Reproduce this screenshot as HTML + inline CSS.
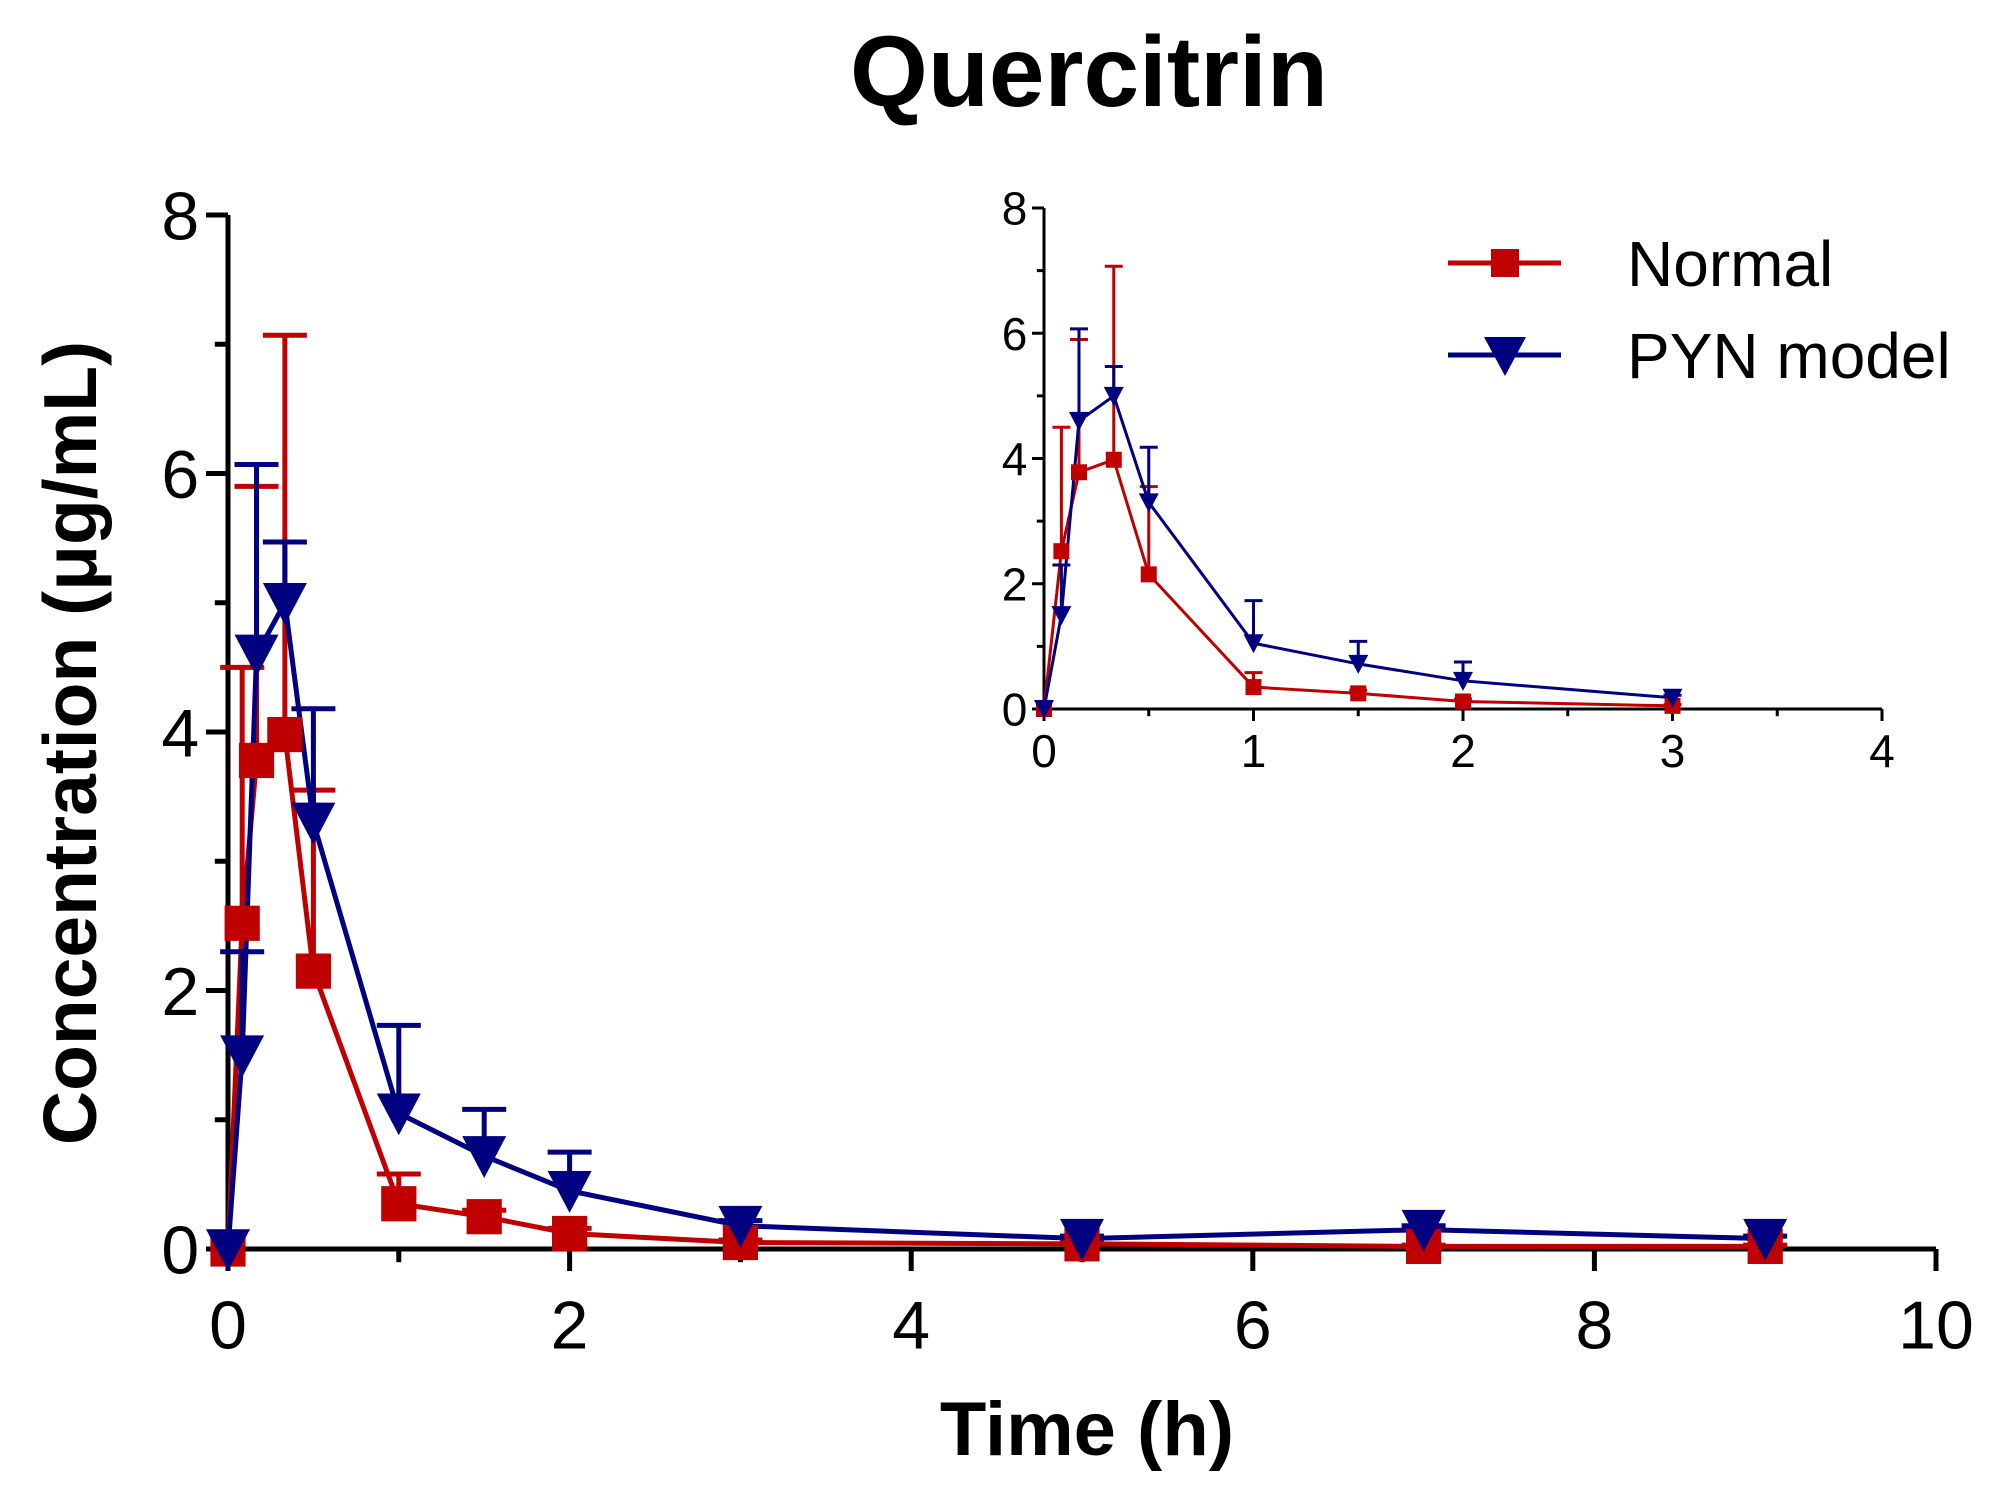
<!DOCTYPE html>
<html><head><meta charset="utf-8"><style>
html,body{margin:0;padding:0;background:#fff;}
svg{display:block;font-family:"Liberation Sans",Arial,sans-serif;}
</style></head><body>
<svg id="chart" width="1999" height="1493" viewBox="0 0 1999 1493" xmlns="http://www.w3.org/2000/svg">
<text x="1089" y="106" font-size="100" font-weight="bold" text-anchor="middle">Quercitrin</text>
<text transform="translate(96,743) rotate(-90)" font-size="75" font-weight="bold" text-anchor="middle">Concentration (μg/mL)</text>
<text x="1087" y="1455" font-size="76" font-weight="bold" text-anchor="middle">Time (h)</text>
<g id="main"></g>
<g id="inset"></g>
<g>
 <g>
  <line x1="1448" y1="263" x2="1561" y2="263" stroke="#c00000" stroke-width="5"/>
  <rect x="1491" y="249" width="28" height="28" fill="#c00000"/>
  <text x="1627" y="286" font-size="64">Normal</text>
 </g>
 <g>
  <line x1="1448" y1="355" x2="1561" y2="355" stroke="#000080" stroke-width="5"/>
  <polygon points="1484,337 1526,337 1505,376" fill="#000080"/>
  <text x="1627" y="378" font-size="64">PYN model</text>
 </g>
</g>
</svg>
<script>
const times = [0, 0.083, 0.167, 0.333, 0.5, 1, 1.5, 2, 3, 5, 7, 9];
const normalMean = [0, 2.52, 3.78, 3.98, 2.15, 0.35, 0.25, 0.12, 0.05, 0.04, 0.02, 0.02];
const normalUpper = [0, 4.5, 5.9, 7.07, 3.55, 0.58, 0.3, 0.16, 0.07, 0.05, 0.03, 0.03];
const pynMean = [0, 1.5, 4.6, 5.0, 3.3, 1.05, 0.72, 0.45, 0.18, 0.08, 0.15, 0.08];
const pynUpper = [0, 2.3, 6.07, 5.47, 4.18, 1.73, 1.08, 0.75, 0.22, 0.1, 0.18, 0.1];
const mainXTicks = [0, 2, 4, 6, 8, 10];
const mainYTicks = [0, 2, 4, 6, 8];
const insetXTicks = [0, 1, 2, 3, 4];
const insetYTicks = [0, 2, 4, 6, 8];

const NS = "http://www.w3.org/2000/svg";
function mk(parent, tag, attrs){const e=document.createElementNS(NS,tag);for(const k in attrs)e.setAttribute(k,attrs[k]);parent.appendChild(e);return e;}

function drawPlot(g, cfg){
  const X = v => cfg.x0 + (v - cfg.xmin)/(cfg.xmax - cfg.xmin)*(cfg.x1 - cfg.x0);
  const Y = v => cfg.y0 - v/cfg.ymax*(cfg.y0 - cfg.y1);
  const aw = cfg.aw;
  let a = mk(g,'line',{x1:cfg.x0,y1:cfg.y0,x2:cfg.x1,y2:cfg.y0,stroke:'#000','stroke-width':aw});
  
  
  a = mk(g,'line',{x1:cfg.x0,y1:cfg.y0,x2:cfg.x0,y2:cfg.y1,stroke:'#000','stroke-width':aw});
  
  
  for(let v=cfg.xmin; v<=cfg.xmax+1e-9; v+=cfg.xminor){
    const major = cfg.xTicks.some(t=>Math.abs(t-v)<1e-6);
    mk(g,'line',{x1:X(v),y1:cfg.y0,x2:X(v),y2:cfg.y0+(major?cfg.tl:cfg.tl*0.6),stroke:'#000','stroke-width':aw});
  }
  cfg.xTicks.forEach(t=>{
    const tx = mk(g,'text',{x:X(t),y:cfg.y0+cfg.tl+cfg.fs*cfg.xlo,'font-size':cfg.fs,'text-anchor':'middle'});
    tx.textContent=t;
    
    
  });
  for(let v=0; v<=cfg.ymax+1e-9; v+=cfg.yminor){
    const major = cfg.yTicks.some(t=>Math.abs(t-v)<1e-6);
    mk(g,'line',{x1:cfg.x0,y1:Y(v),x2:cfg.x0-(major?cfg.tl:cfg.tl*0.6),y2:Y(v),stroke:'#000','stroke-width':aw});
  }
  cfg.yTicks.forEach(t=>{
    const tx = mk(g,'text',{x:cfg.x0-cfg.tl-cfg.fs*0.1,y:Y(t)+cfg.fs*0.36,'font-size':cfg.fs,'text-anchor':'end'});
    tx.textContent=t;
    
    
  });
  const idx = times.map((t,i)=>i).filter(i=>times[i]<=cfg.tmax);
  const series=[
    {name:'normal',mean:normalMean,up:normalUpper,color:'#c00000',shape:'sq'},
    {name:'pyn',mean:pynMean,up:pynUpper,color:'#000080',shape:'tri'}
  ];
  series.forEach(s=>{
    idx.forEach(i=>{
      if(s.up[i] > s.mean[i]){
        const eb = mk(g,'path',{d:`M${X(times[i])},${Y(s.mean[i])}V${Y(s.up[i])}M${X(times[i])-cfg.cap},${Y(s.up[i])}H${X(times[i])+cfg.cap}`,stroke:s.color,'stroke-width':cfg.lw,fill:'none'});
        
        
      }
    });
    const pl = mk(g,'polyline',{points:idx.map(i=>X(times[i])+','+Y(s.mean[i])).join(' '),fill:'none',stroke:s.color,'stroke-width':cfg.lw});
    
    
  });
  series.forEach(s=>{
    idx.forEach(i=>{
      const cx=X(times[i]), cy=Y(s.mean[i]), m=cfg.ms;
      let p;
      if(s.shape==='sq') p = mk(g,'rect',{x:cx-m*0.4,y:cy-m*0.4,width:m*0.8,height:m*0.8,fill:s.color});
      else p = mk(g,'polygon',{points:`${cx-m/2},${cy-m*0.45} ${cx+m/2},${cy-m*0.45} ${cx},${cy+m*0.5}`,fill:s.color});
      
      
    });
  });
}
drawPlot(document.getElementById('main'),{name:'main',x0:228,x1:1936,y0:1249,y1:215,xmin:0,xmax:10,ymax:8,xTicks:mainXTicks,yTicks:mainYTicks,xminor:1,yminor:1,tmax:10,aw:5,tl:22,fs:68,xlo:1.14,lw:5,cap:22,ms:44});
drawPlot(document.getElementById('inset'),{name:'inset',x0:1044,x1:1882,y0:709,y1:208,xmin:0,xmax:4,ymax:8,xTicks:insetXTicks,yTicks:insetYTicks,xminor:0.5,yminor:1,tmax:3,aw:3,tl:12,fs:46,xlo:1.0,lw:3,cap:9,ms:20});
</script>
</body></html>
